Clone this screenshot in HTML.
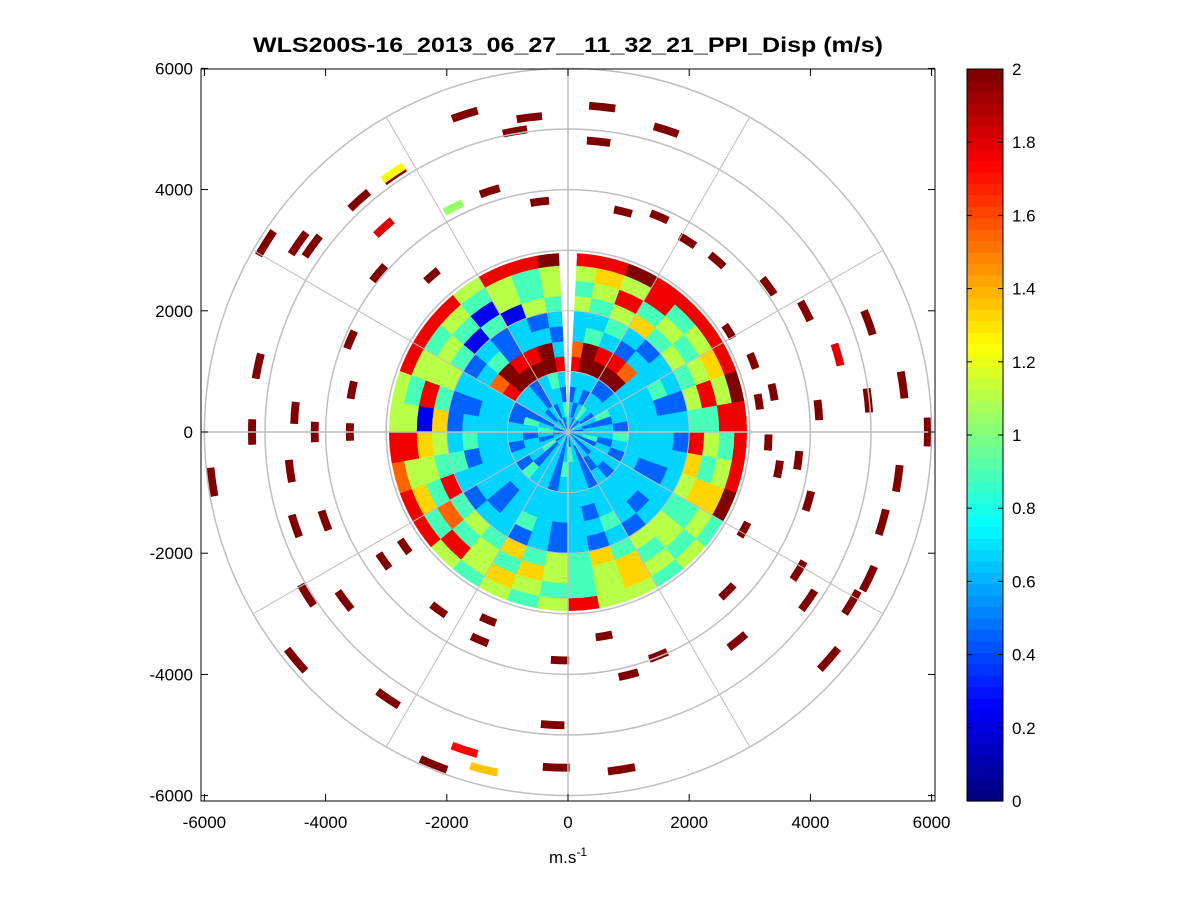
<!DOCTYPE html>
<html><head><meta charset="utf-8"><style>
body{margin:0;background:#fff;}
svg{display:block;font-family:"Liberation Sans",sans-serif;}
</style></head><body>
<svg id="chart" width="1201" height="901" viewBox="0 0 1201 901">
<rect x="0" y="0" width="1201" height="901" fill="#fff"/>
<text x="568" y="52" text-anchor="middle" font-size="21" font-weight="bold" textLength="630" lengthAdjust="spacingAndGlyphs">WLS200S-16_2013_06_27__11_32_21_PPI_Disp (m/s)</text>
<g id="cells"></g>
<g id="segs"></g>
<g id="grid"></g>
<g id="axes"></g>
<g id="cbar"></g>
<text x="568" y="863" text-anchor="middle" font-size="17">m.s<tspan dy="-7" font-size="12">-1</tspan></text>
</svg>
<script>
// ---- data ----
const ringStep = 250;           // metres per range ring
const azStep = 10;              // degrees per azimuth bin
const gapHalfWidth = 3;         // deg, missing wedge at north
const cmin = 0, cmax = 2;
// digit d -> value d/9*2 ; rows = rings from centre outward, columns = azimuth 0..350
const rings = [
 "332323332332323332323332332323332323",
 "323432323342323234323324323432323234",
 "232333423323332233423323332342332332",
 "333223332432323233323342323322332343",
 "899993333333333333333333333333899998",
 "798873333332333323333323333333798893",
 "343233423332323433234323324323342332",
 "334323323233332323232332343223232323",
 "545645454865455464546454845645414154",
 "458454584546454654564547456185541545",
 "565845658456545654456584658545454545",
 "889888898889454558545458878558885889"
];
const segRange = [5510,5395,5230,5040,5240,5120,5150,5880,5430,5220,5230,5930,5215,4630,4270,5080,4760,5860,4620,5310,5920,5520,5740,4840,3770,5540,5640,3420,3980,4130,3720,4440,4440,4840,5710,5460,5520,5400,5500,5940,4980,5580,5280,4630,4400,4090,3750,3720,3860,3750,4820,3830,4180,4160,4540,5160,3420,4080,3900,3630,4520,4180,3600,3710,3290,3630,3370,3730,3310,3530,3830,3190,3450,3270,3130,4150,4130,3320];
const segAz =    [342,6,353,350,18,326,318,302,305,306,282,262,270,262,250,238,251,230,233,214,202,198,194,183,182,182,171,170,158,166,135,141,121,125,131,121,116,106,98,90,84,82,70,74,63,54,41,32,23,14,6,353,342,333,318,326,319,310,293,281,274,270,270,235,235,216,203,203,93,100,97,81,79,69,58,85,106,119];
const segVal =   [2,2,2,2,2,2,2,2,2,2,2,2,2,2,2,2,2,2,2,2,2,1.75,1.35,2,2,2,2,2,2,2,2,2,2,2,2,2,2,2,2,2,2,2,2,1.8,2,2,2,2,2,2,2,2,2,1.05,1.8,1.25,2,2,2,2,2,2,2,2,2,2,2,2,2,2,2,2,2,2,2,2,2,2];
const xTicks = [-6000,-4000,-2000,0,2000,4000,6000];
const yTicks = [-6000,-4000,-2000,0,2000,4000,6000];
const cTicks = [0,0.2,0.4,0.6,0.8,1,1.2,1.4,1.6,1.8,2];
// ---- layout ----
const NS="http://www.w3.org/2000/svg";
const cx=568, cy=432, k=0.0606;
const L=201,R=935,T=69,B=801;
function sx(v){return cx+v*k;}
function sy(v){return cy-v*k;}
function jet(t){t=Math.max(0,Math.min(1,t));t=Math.floor(t*63.999)/63;
 const c=x=>Math.round(255*Math.max(0,Math.min(1,1.5-Math.abs(x))));
 return `rgb(${c(4*t-3)},${c(4*t-2)},${c(4*t-1)})`;}
function col(v){return jet((v-cmin)/(cmax-cmin));}
function pt(r,az){const a=az*Math.PI/180;return [cx+r*k*Math.sin(a),cy-r*k*Math.cos(a)];}
function sector(r0,r1,a0,a1){
 const p1=pt(r0,a0),p2=pt(r1,a0),p3=pt(r1,a1),p4=pt(r0,a1);
 const large=(a1-a0)>180?1:0;
 return `M${p1[0]},${p1[1]}L${p2[0]},${p2[1]}A${r1*k},${r1*k} 0 ${large} 1 ${p3[0]},${p3[1]}L${p4[0]},${p4[1]}A${r0*k},${r0*k} 0 ${large} 0 ${p1[0]},${p1[1]}Z`;}
function mk(tag,attrs,parent){const e=document.createElementNS(NS,tag);for(const a in attrs)e.setAttribute(a,attrs[a]);parent.appendChild(e);return e;}
// inner cells
const gc=document.getElementById('cells');
rings.forEach((row,i)=>{
 for(let j=0;j<row.length;j++){
  const v=(+row[j])/9*2;
  let a0=j*azStep,a1=a0+azStep;
  if(i>0){ if(j===0)a0=gapHalfWidth; if(j===row.length-1)a1=360-gapHalfWidth; }
  const p=mk('path',{d:sector(i*ringStep,(i+1)*ringStep-(i===rings.length-1?50:0),a0,a1),fill:col(v),stroke:col(v),'stroke-width':0.5},gc);
  
  
 }
});
// outer segments
const gs=document.getElementById('segs');
segRange.forEach((r,i)=>{
 const p=mk('path',{d:sector(r-65,r+65,segAz[i]-2.3,segAz[i]+2.3),fill:col(segVal[i])},gs);
 
 
});
// grid
const gg=document.getElementById('grid');
for(let r=1000;r<=6000;r+=1000){
 const c=mk('circle',{cx:cx,cy:cy,r:r*k,fill:'none',stroke:'#bfbfbf','stroke-width':r>=3000?1.5:1},gg);
 
 
}
for(let a=0;a<360;a+=30){
 const p=pt(6000,a);
 const l=mk('line',{x1:cx,y1:cy,x2:p[0],y2:p[1],stroke:'#bfbfbf','stroke-width':a%90===0?1.5:1},gg);
 
 
}
// axes
const ga=document.getElementById('axes');
const box=mk('rect',{x:L,y:T,width:R-L,height:B-T,fill:'none',stroke:'#000'},ga);


xTicks.forEach(v=>{const x=sx(v);
 mk('line',{x1:x,y1:B,x2:x,y2:B-7,stroke:'#000'},ga);mk('line',{x1:x,y1:T,x2:x,y2:T+7,stroke:'#000'},ga);
 const t=mk('text',{x:x,y:828,'text-anchor':'middle','font-size':17},ga);t.textContent=v;
 
 });
yTicks.forEach(v=>{const y=sy(v);
 mk('line',{x1:L,y1:y,x2:L+7,y2:y,stroke:'#000'},ga);mk('line',{x1:R,y1:y,x2:R-7,y2:y,stroke:'#000'},ga);
 const t=mk('text',{x:193,y:y+6,'text-anchor':'end','font-size':17},ga);t.textContent=v;
 
 });
// colorbar
const gb=document.getElementById('cbar');
const cbL=967,cbR=1003,cbT=69,cbB=801;
for(let i=0;i<64;i++){
 const h=(cbB-cbT)/64;
 const r=mk('rect',{x:cbL,y:cbB-(i+1)*h,width:cbR-cbL,height:h+0.6,fill:jet(i/63)},gb);
 
 
}
mk('rect',{x:cbL,y:cbT,width:cbR-cbL,height:cbB-cbT,fill:'none',stroke:'#000'},gb);
cTicks.forEach(v=>{const y=cbB-(v-cmin)/(cmax-cmin)*(cbB-cbT);
 mk('line',{x1:cbL,y1:y,x2:cbL+5,y2:y,stroke:'#000'},gb);mk('line',{x1:cbR,y1:y,x2:cbR-5,y2:y,stroke:'#000'},gb);
 const t=mk('text',{x:1012,y:y+6,'font-size':17},gb);t.textContent=v;
 
 });
</script>
</body></html>
